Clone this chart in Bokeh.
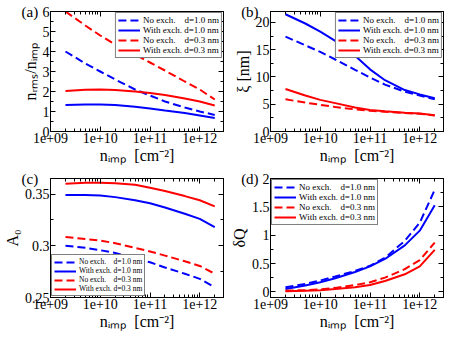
from bokeh.plotting import figure
from bokeh.layouts import gridplot
from bokeh.models import (Range1d, FixedTicker, CustomJSTickFormatter, LogAxis,
                          LinearAxis, Legend, LegendItem)
from bokeh.embed import file_html
from bokeh.resources import INLINE

# ---------------- data ----------------
n_imp = [2e9, 5e9, 1e10, 2e10, 5e10, 1e11, 2e11, 5e11, 1e12, 2e12]

# (a) n_rms / n_imp
a_noex_d10 = [4.0, 3.4, 3.0, 2.6, 2.1, 1.8, 1.5, 1.2, 1.0, 0.83]
a_ex_d10 = [1.33, 1.35, 1.35, 1.32, 1.24, 1.15, 1.05, 0.92, 0.8, 0.68]
a_noex_d03 = [6.0, 5.3, 4.8, 4.35, 3.85, 3.45, 3.05, 2.5, 2.1, 1.6]
a_ex_d03 = [2.03, 2.09, 2.1, 2.08, 2.0, 1.92, 1.82, 1.65, 1.5, 1.3]

# (b) xi [nm]
b_noex_d10 = [17.4, 15.8, 14.6, 13.2, 11.3, 9.9, 8.6, 7.3, 6.6, 5.9]
b_ex_d10 = [21.5, 19.8, 18.3, 16.6, 13.9, 11.4, 9.4, 7.6, 6.8, 6.1]
b_noex_d03 = [5.9, 5.3, 4.9, 4.5, 4.05, 3.8, 3.6, 3.4, 3.25, 2.95]
b_ex_d03 = [7.8, 6.6, 5.8, 5.2, 4.4, 3.95, 3.7, 3.45, 3.3, 3.0]

# (c) A0
c_noex_d10 = [0.300, 0.298, 0.2957, 0.293, 0.288, 0.284, 0.279, 0.273, 0.268, 0.260]
c_ex_d10 = [0.349, 0.349, 0.3485, 0.347, 0.344, 0.341, 0.337, 0.331, 0.326, 0.318]
c_noex_d03 = [0.3085, 0.3065, 0.305, 0.3025, 0.298, 0.2945, 0.2905, 0.285, 0.2805, 0.273]
c_ex_d03 = [0.360, 0.361, 0.361, 0.3605, 0.359, 0.356, 0.353, 0.348, 0.344, 0.338]

# (d) delta Q
d_noex_d10 = [0.08, 0.14, 0.2, 0.27, 0.37, 0.46, 0.6, 0.9, 1.22, 1.8]
d_ex_d10 = [0.05, 0.11, 0.17, 0.24, 0.35, 0.45, 0.58, 0.82, 1.08, 1.53]
d_noex_d03 = [0.02, 0.03, 0.045, 0.07, 0.12, 0.17, 0.25, 0.4, 0.56, 0.87]
d_ex_d03 = [0.01, 0.02, 0.03, 0.05, 0.08, 0.12, 0.19, 0.31, 0.45, 0.74]

legend_labels = ["No exch.\u00a0\u00a0\u00a0\u00a0d=1.0 nm",
                 "With exch.\u00a0d=1.0 nm",
                 "No exch.\u00a0\u00a0\u00a0\u00a0d=0.3 nm",
                 "With exch.\u00a0d=0.3 nm"]

x_major = [1e9, 1e10, 1e11, 1e12]
x_minor = [m * 10 ** e for e in range(9, 13) for m in range(2, 10)]

x_label = "n\u1d62\u2098\u209a\u00a0\u00a0[cm\u207b\u00b2]"

FONT = "Liberation Serif"
BLUE = "#0000ff"
RED = "#ff0000"


def log_fmt():
    return CustomJSTickFormatter(code="""
const e = Math.round(Math.log10(tick));
return '1e+' + (e < 10 ? '0' : '') + e;
""")


def lin_fmt():
    return CustomJSTickFormatter(code="return String(Math.round(tick*10000)/10000);")


def empty_fmt():
    return CustomJSTickFormatter(code="return ' ';")


def tag_fmt(tag):
    # panel tag shown as the label of the first top tick, padded so that
    # the visible text sits left of the frame corner
    padded = tag + "\u00a0" * 11
    return CustomJSTickFormatter(args=dict(t=padded), code="""
return (Math.abs(Math.log10(tick) - 9) < 0.01) ? t : ' ';
""")


def style_axis(ax, show_labels=True):
    ax.axis_line_color = "black"
    ax.major_tick_line_color = "black"
    ax.minor_tick_line_color = "black"
    ax.major_tick_in = 5
    ax.major_tick_out = 0
    ax.minor_tick_in = 3
    ax.minor_tick_out = 0
    ax.major_label_standoff = 1
    ax.axis_label_standoff = 1
    ax.major_label_text_font = FONT
    ax.major_label_text_color = "black"
    ax.axis_label_text_font = FONT
    ax.axis_label_text_font_style = "normal"
    ax.axis_label_text_color = "black"
    ax.axis_label_text_font_size = "16px"
    if show_labels:
        ax.major_label_text_font_size = "14px"
    else:
        ax.major_label_text_font_size = "2px"
        ax.major_label_standoff = 0


def make_panel(w, h, left, top, yr, yticks, yminor, ylabel, series,
               leg_loc, leg_font, tag):
    p = figure(width=w, height=h, x_axis_type="log",
               x_range=Range1d(1e9, 3e12), y_range=Range1d(*yr),
               output_backend="svg", toolbar_location=None,
               min_border_left=left, min_border_right=2,
               min_border_top=top, min_border_bottom=36)
    p.grid.visible = False
    p.outline_line_color = "black"
    p.background_fill_color = "white"
    p.border_fill_color = "white"

    p.xaxis.ticker = FixedTicker(ticks=x_major, minor_ticks=x_minor)
    p.xaxis.formatter = log_fmt()
    p.xaxis.axis_label = x_label
    p.yaxis.ticker = FixedTicker(ticks=yticks, minor_ticks=yminor)
    p.yaxis.formatter = lin_fmt()
    p.yaxis.axis_label = ylabel
    for ax in p.xaxis + p.yaxis:
        style_axis(ax)

    # mirrored top axis; it also carries the panel tag
    top_ax = LogAxis(ticker=FixedTicker(ticks=x_major, minor_ticks=x_minor),
                     formatter=tag_fmt(tag))
    style_axis(top_ax)
    top_ax.major_label_text_font_size = "15px"
    top_ax.major_label_standoff = -8
    p.add_layout(top_ax, "above")

    right_ax = LinearAxis(ticker=FixedTicker(ticks=yticks, minor_ticks=yminor),
                          formatter=empty_fmt())
    style_axis(right_ax, show_labels=False)
    p.add_layout(right_ax, "right")

    items = []
    styles = [(BLUE, "8 4"), (BLUE, "solid"), (RED, "8 4"), (RED, "solid")]
    for ys, lab, (col, dash) in zip(series, legend_labels, styles):
        r = p.line(n_imp, ys, line_color=col, line_width=2, line_dash=dash)
        items.append(LegendItem(label=lab, renderers=[r]))

    leg = Legend(items=items, location=leg_loc)
    leg.label_text_font = FONT
    leg.label_text_font_size = leg_font
    leg.label_text_color = "black"
    leg.border_line_color = "black"
    leg.border_line_width = 1
    leg.background_fill_alpha = 1.0
    leg.padding = 2
    leg.spacing = 0
    leg.margin = 1
    leg.glyph_width = 22
    leg.glyph_height = 8
    leg.label_height = 8
    leg.label_standoff = 3
    p.add_layout(leg, "center")
    return p


W1, W2 = 227, 220
H1, H2 = 167, 166
L1, L2 = 44, 37

pa = make_panel(W1, H1, L1, 9, (0, 6), [0, 1, 2, 3, 4, 5, 6],
                [0.5, 1.5, 2.5, 3.5, 4.5, 5.5],
                "n\u1d63\u2098\u209b/n\u1d62\u2098\u209a",
                [a_noex_d10, a_ex_d10, a_noex_d03, a_ex_d03],
                "top_right", "9px", "(a)")
pb = make_panel(W2, H1, L2, 9, (0, 22), [0, 5, 10, 15, 20],
                [2.5, 7.5, 12.5, 17.5],
                "\u03be [nm]",
                [b_noex_d10, b_ex_d10, b_noex_d03, b_ex_d03],
                "top_right", "9px", "(b)")
pc = make_panel(W1, H2, L1, 9, (0.25, 0.365), [0.25, 0.3, 0.35],
                [0.275, 0.325],
                "A\u2080",
                [c_noex_d10, c_ex_d10, c_noex_d03, c_ex_d03],
                "bottom_left", "7.5px", "(c)")
pd = make_panel(W2, H2, L2, 9, (-0.1, 2.0), [0, 0.5, 1, 1.5, 2],
                [0.25, 0.75, 1.25, 1.75],
                "\u03b4Q",
                [d_noex_d10, d_ex_d10, d_noex_d03, d_ex_d03],
                "top_left", "9px", "(d)")

grid = gridplot([[pa, pb], [pc, pd]], toolbar_location=None)

open("out.html", "w").write(file_html(grid, INLINE))
